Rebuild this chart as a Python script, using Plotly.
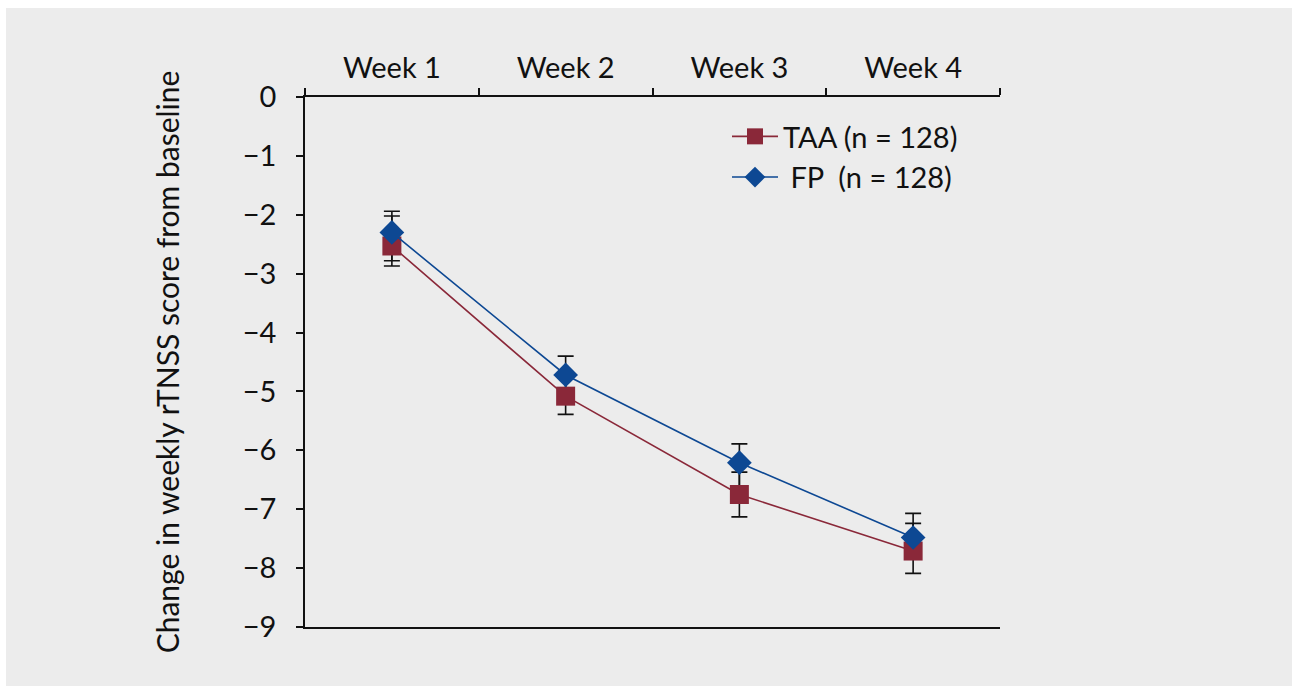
import plotly.graph_objects as go

weeks = ["Week 1", "Week 2", "Week 3", "Week 4"]
taa_name = "TAA (n = 128)"
fp_name = "\u00a0FP\u00a0\u00a0(n = 128)"

taa_values = [-2.53, -5.08, -6.75, -7.71]
taa_err_up = [0.51, 0.31, 0.38, 0.47]
taa_err_down = [0.34, 0.31, 0.38, 0.38]

fp_values = [-2.30, -4.72, -6.21, -7.48]
fp_err_up = [0.36, 0.32, 0.32, 0.41]
fp_err_down = [0.48, 0.32, 0.45, 0.30]

y_ticks = [0, -1, -2, -3, -4, -5, -6, -7, -8, -9]

TAA_COLOR = "#8a2839"
FP_COLOR = "#0d4893"
FONT = "Lato"

W, H = 1292, 686
# plot area in window pixels (from the reference)
L, R, T, B = 305, 1000, 97, 627

fig = go.Figure()

# error bars (drawn first so markers sit on top)
for vals, up, dn in [(taa_values, taa_err_up, taa_err_down), (fp_values, fp_err_up, fp_err_down)]:
    fig.add_trace(go.Scatter(
        x=weeks, y=vals, mode="markers",
        marker=dict(size=1, opacity=0),
        error_y=dict(type="data", symmetric=False, array=up, arrayminus=dn,
                     color="#111111", thickness=1.6, width=8),
        showlegend=False, hoverinfo="skip",
    ))

fig.add_trace(go.Scatter(
    x=weeks, y=taa_values, mode="lines+markers", name=taa_name,
    line=dict(color=TAA_COLOR, width=1.6),
    marker=dict(symbol="square", size=19, color=TAA_COLOR),
))
fig.add_trace(go.Scatter(
    x=weeks, y=fp_values, mode="lines+markers", name=fp_name,
    line=dict(color=FP_COLOR, width=1.6),
    marker=dict(symbol="diamond", size=19, color=FP_COLOR),
))

def px_x(p):
    return (p - L) / (R - L)

def px_y(p):
    return (B - p) / (B - T)

# white strips at the top and left edges of the picture
fig.add_shape(type="rect", xref="paper", yref="paper",
              x0=px_x(-20), x1=px_x(6), y0=px_y(H + 20), y1=px_y(-20),
              fillcolor="white", line=dict(width=0), layer="below")
fig.add_shape(type="rect", xref="paper", yref="paper",
              x0=px_x(-20), x1=px_x(W + 20), y0=px_y(8), y1=px_y(-20),
              fillcolor="white", line=dict(width=0), layer="below")

fig.update_layout(
    width=W, height=H,
    margin=dict(l=L, r=W - R, t=T, b=H - B, pad=0),
    paper_bgcolor="#ececec",
    plot_bgcolor="rgba(0,0,0,0)",
    font=dict(family=FONT, size=29, color="#111111"),
    showlegend=True,
    legend=dict(x=px_x(727), y=px_y(111), xanchor="left", yanchor="top",
                bgcolor="rgba(0,0,0,0)", font=dict(family=FONT, size=29, color="#111111"),
                tracegroupgap=0, itemwidth=46),
    xaxis=dict(
        type="category", categoryorder="array", categoryarray=weeks,
        range=[-0.5, 3.5], side="top",
        showline=True, linecolor="#111111", linewidth=1.6, mirror=True,
        ticks="outside", tickson="boundaries", ticklen=7, tickwidth=1.6, tickcolor="#111111",
        showgrid=False, zeroline=False,
        tickfont=dict(family=FONT, size=29, color="#111111"),
        ticklabelstandoff=6,
    ),
    yaxis=dict(
        range=[-9, 0], tickvals=y_ticks,
        showline=True, linecolor="#111111", linewidth=1.6,
        ticks="outside", ticklen=7, tickwidth=1.6, tickcolor="#111111",
        showgrid=False, zeroline=False,
        tickfont=dict(family=FONT, size=29, color="#111111"),
        ticklabelstandoff=14,
        title=dict(text="Change in weekly rTNSS score from baseline",
                   font=dict(family=FONT, size=30, color="#111111"), standoff=54),
    ),
)

fig.write_html(
    "out.html",
    config={"displayModeBar": False},
    post_script="document.body.style.margin='0';document.documentElement.style.overflow='hidden';",
)
